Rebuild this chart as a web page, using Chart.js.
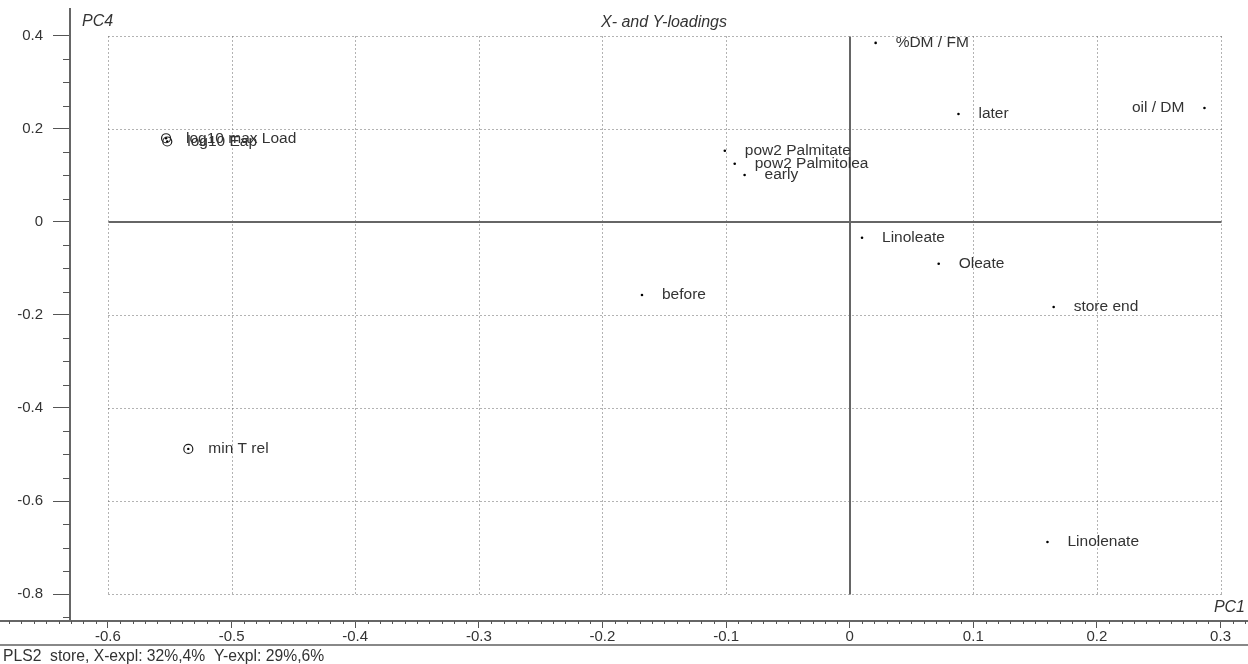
<!DOCTYPE html>
<html>
<head>
<meta charset="utf-8">
<script src="https://cdn.jsdelivr.net/npm/chart.js@4.4.1/dist/chart.umd.min.js"></script>
<style>
  html, body { margin: 0; padding: 0; background: #fff; overflow: hidden; }
  #wrap { width: 1248px; height: 664px; position: relative; }
</style>
</head>
<body>
<div id="wrap"><canvas id="c" width="1248" height="664"></canvas></div>
<script>
// PLS2 "store" model: loadings of the variables on PC1 (horizontal) and PC4 (vertical)
const xVariables = ['%DM / FM', 'later', 'oil / DM', 'pow2 Palmitate', 'pow2 Palmitolea', 'early',
                    'Linoleate', 'Oleate', 'before', 'store end', 'Linolenate'];
const xLoadPC1 = [0.021, 0.088, 0.287, -0.101, -0.093, -0.085, 0.010, 0.072, -0.168, 0.165, 0.160];
const xLoadPC4 = [0.385, 0.232, 0.245, 0.153, 0.125, 0.101, -0.034, -0.090, -0.157, -0.183, -0.688];

const yVariables = ['log10 max Load', 'log10 Eap', 'min T rel'];
const yLoadPC1 = [-0.553, -0.552, -0.535];
const yLoadPC4 = [0.180, 0.173, -0.488];

const pc1Ticks = [-0.6, -0.5, -0.4, -0.3, -0.2, -0.1, 0, 0.1, 0.2, 0.3];
const pc4Ticks = [0.4, 0.2, 0, -0.2, -0.4, -0.6, -0.8];

const plotTitle = 'X- and Y-loadings';
const xAxisName = 'PC1';
const yAxisName = 'PC4';
const caption = 'PLS2  store, X-expl: 32%,4%  Y-expl: 29%,6%';

// labels written to the left of their marker
const leftLabelled = new Set(['oil / DM']);

const FONT = "'Liberation Sans', Arial, sans-serif";
const TEXT = '#333';
const fmt = v => String(Math.round(v * 10) / 10);

const xPoints = xVariables.map((n, i) => ({ x: xLoadPC1[i], y: xLoadPC4[i], name: n }));
const yPoints = yVariables.map((n, i) => ({ x: yLoadPC1[i], y: yLoadPC4[i], name: n }));

const frame = {
  id: 'frame',
  beforeDatasetsDraw(chart) {
    const { ctx, scales: { x, y } } = chart;
    const X = v => Math.round(x.getPixelForValue(v)) + 0.5;
    const Y = v => Math.round(y.getPixelForValue(v)) + 0.5;
    const x0 = X(Math.min(...pc1Ticks)), x1 = X(Math.max(...pc1Ticks));
    const yT = Y(Math.max(...pc4Ticks)), yB = Y(Math.min(...pc4Ticks));
    ctx.save();
    // dotted grid bounded by the outer tick values
    ctx.strokeStyle = '#666';
    ctx.lineWidth = 1;
    ctx.setLineDash([1, 3]);
    ctx.beginPath();
    pc1Ticks.forEach(v => { if (v !== 0) { ctx.moveTo(X(v), yT); ctx.lineTo(X(v), yB); } });
    pc4Ticks.forEach(v => { if (v !== 0) { ctx.moveTo(x0, Y(v)); ctx.lineTo(x1, Y(v)); } });
    ctx.stroke();
    // solid zero lines
    ctx.setLineDash([]);
    ctx.strokeStyle = '#666';
    ctx.lineWidth = 2;
    const zx = Math.round(x.getPixelForValue(0)), zy = Math.round(y.getPixelForValue(0));
    ctx.beginPath();
    ctx.moveTo(x0, zy); ctx.lineTo(x1, zy);
    ctx.moveTo(zx, yT); ctx.lineTo(zx, yB);
    ctx.stroke();
    ctx.restore();
  },
  afterDatasetsDraw(chart) {
    const { ctx } = chart;
    ctx.save();
    ctx.font = '15.5px ' + FONT;
    ctx.fillStyle = TEXT;
    ctx.textBaseline = 'middle';
    [0, 1].forEach(di => {
      const meta = chart.getDatasetMeta(di);
      const pts = chart.data.datasets[di].data;
      meta.data.forEach((el, j) => {
        const name = pts[j].name;
        if (leftLabelled.has(name)) {
          ctx.textAlign = 'right';
          ctx.fillText(name, el.x - 20, el.y);
        } else {
          ctx.textAlign = 'left';
          ctx.fillText(name, el.x + 20, el.y);
        }
      });
    });
    ctx.restore();
  },
  afterDraw(chart) {
    const { ctx, chartArea: a, scales: { x, y }, width } = chart;
    ctx.save();
    // axis lines
    ctx.strokeStyle = '#666';
    ctx.lineWidth = 2;
    ctx.beginPath();
    ctx.moveTo(a.left, a.top); ctx.lineTo(a.left, a.bottom + 1);
    ctx.moveTo(0, a.bottom); ctx.lineTo(width, a.bottom);
    ctx.stroke();
    // minor ticks
    ctx.strokeStyle = '#555';
    ctx.lineWidth = 1;
    ctx.beginPath();
    for (let k = -68; k <= 32; k++) {
      if (k % 10 === 0) continue;
      const px = Math.round(x.getPixelForValue(k / 100)) + 0.5;
      ctx.moveTo(px, a.bottom); ctx.lineTo(px, a.bottom + 3);
    }
    for (let k = -17; k <= 8; k++) {
      if (k % 4 === 0) continue;
      const py = Math.round(y.getPixelForValue(k * 0.05)) + 0.5;
      ctx.moveTo(a.left - 7, py); ctx.lineTo(a.left, py);
    }
    ctx.stroke();
    // separator above caption
    ctx.strokeStyle = '#888';
    ctx.lineWidth = 2;
    ctx.beginPath();
    ctx.moveTo(0, 645); ctx.lineTo(width, 645);
    ctx.stroke();
    // texts
    ctx.fillStyle = TEXT;
    ctx.font = 'italic 16px ' + FONT;
    ctx.textBaseline = 'middle';
    ctx.textAlign = 'left';
    ctx.fillText(yAxisName, a.left + 12, 22);
    ctx.textAlign = 'center';
    ctx.fillText(plotTitle, 664, 23);
    ctx.textAlign = 'right';
    ctx.fillText(xAxisName, width - 3, a.bottom - 13);
    ctx.font = '15.7px ' + FONT;
    ctx.textAlign = 'left';
    ctx.textBaseline = 'alphabetic';
    ctx.fillText(caption, 3, 661);
    ctx.restore();
  }
};

new Chart(document.getElementById('c'), {
  type: 'scatter',
  data: {
    datasets: [
      { label: 'X-loadings', data: xPoints, pointRadius: 1.3, pointBackgroundColor: '#000',
        pointBorderWidth: 0, pointHoverRadius: 1.3 },
      { label: 'Y-loadings', data: yPoints, pointRadius: 4.5, pointBackgroundColor: 'rgba(0,0,0,0)',
        pointBorderColor: '#222', pointBorderWidth: 1.2, pointHoverRadius: 4.5 },
      { label: 'Y-loadings centre', data: yPoints, pointRadius: 1.2, pointBackgroundColor: '#000',
        pointBorderWidth: 0, pointHoverRadius: 1.2 }
    ]
  },
  options: {
    responsive: false,
    animation: false,
    events: [],
    layout: { padding: { top: 8, left: 0, right: 0, bottom: 0 } },
    plugins: { legend: { display: false }, tooltip: { enabled: false } },
    scales: {
      x: {
        type: 'linear', position: 'bottom', min: -0.6307, max: 0.3176,
        afterBuildTicks: s => { s.ticks = pc1Ticks.map(v => ({ value: v })); },
        afterFit: s => { s.height = 43; s.paddingLeft = 0; s.paddingRight = 0; },
        grid: { drawOnChartArea: false, drawTicks: true, tickLength: 7, color: '#555', lineWidth: 1 },
        border: { display: false },
        ticks: { autoSkip: false, maxRotation: 0, padding: 0, color: TEXT,
                 font: { family: FONT, size: 15 }, callback: v => fmt(v) }
      },
      y: {
        type: 'linear', position: 'left', min: -0.858, max: 0.460,
        afterBuildTicks: s => { s.ticks = pc4Ticks.map(v => ({ value: v })); },
        afterFit: s => { s.width = 70; s.paddingTop = 0; s.paddingBottom = 0; },
        grid: { drawOnChartArea: false, drawTicks: true, tickLength: 17, color: '#555', lineWidth: 1 },
        border: { display: false },
        ticks: { autoSkip: false, padding: 10, color: TEXT,
                 font: { family: FONT, size: 15 }, callback: v => fmt(v) }
      }
    }
  },
  plugins: [frame]
});
</script>
</body>
</html>
